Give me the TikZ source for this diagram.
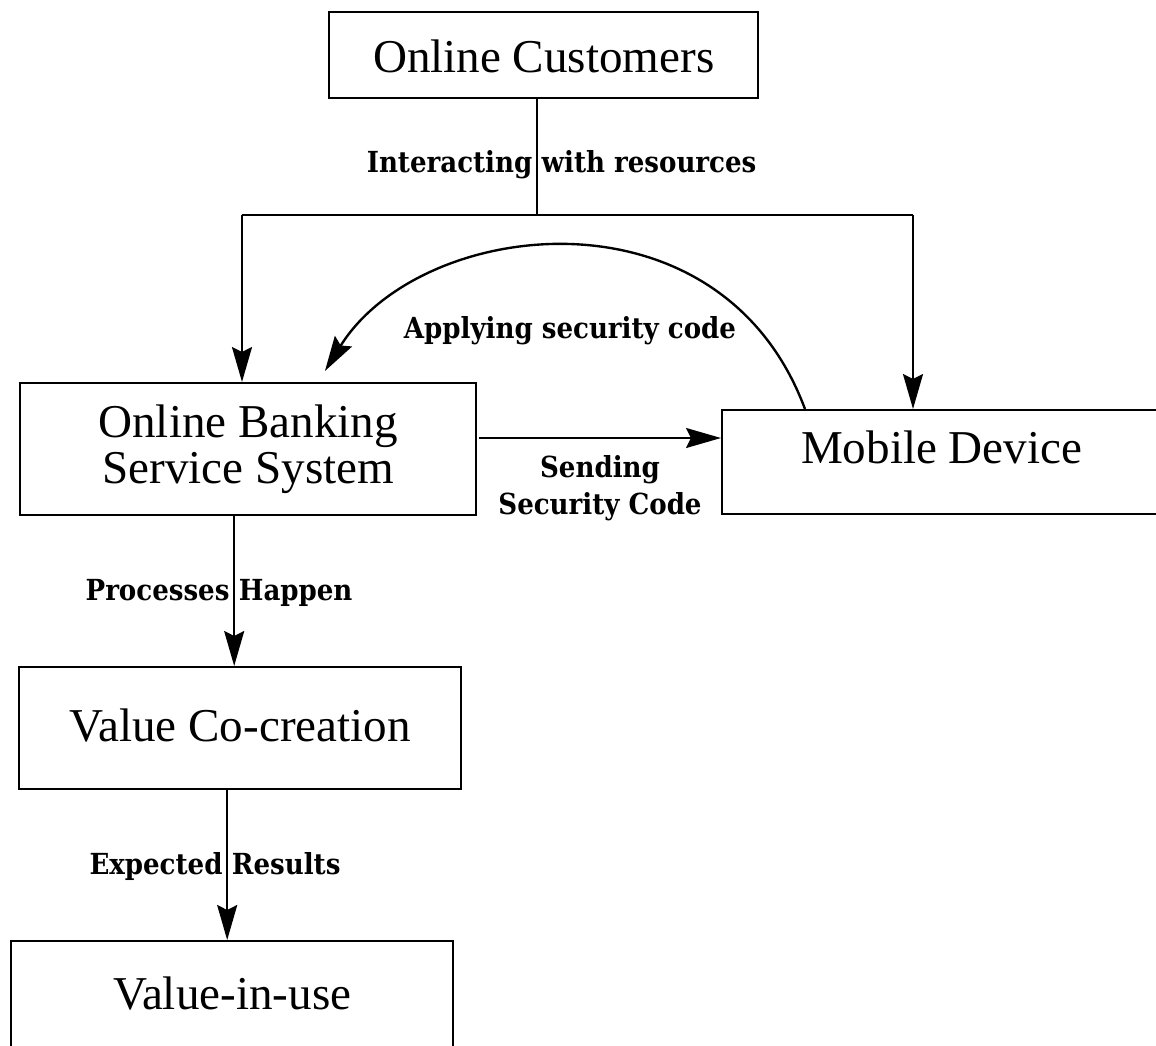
\documentclass[tikz,border=0pt]{standalone}
\usepackage{fontspec}
\setmainfont{Liberation Serif}
\newfontfamily\lblfont{DejaVu Serif Condensed}
\usetikzlibrary{arrows.meta}

\begin{document}
\begin{tikzpicture}[x=0.02cm, y=-0.02cm, every edge/.style={draw,solid}, line width=1.35pt,
                    >={Stealth[length=0.7cm,width=0.4cm,inset=0.1cm]},
                    box/.style={draw, rectangle, line width=1.4pt, inner xsep=0pt, inner ysep=0pt,
                                anchor=north west, font=\fontsize{26.8}{26}\selectfont},
                    lbl/.style={font=\lblfont\bfseries\fontsize{16.5}{21.5}\selectfont, inner sep=2pt},
                    sidelbl/.style={lbl, text height=0.75em, text depth=0.25em, yshift=-0.1cm}]

\useasboundingbox (0,0) rectangle (1156,1045);
\clip (0,0) rectangle (1156,1045);

\node[box, minimum width=8.58cm, text height=1.2cm, text depth=0.52cm] (cust) at (328,11) {Online Customers};
\node[box, minimum width=9.12cm, minimum height=2.64cm, align=center] (obss) at (19,382) {Online Banking\\Service System};
\node[box, minimum width=8.78cm, text height=1.06cm, text depth=1.02cm] (mob) at (721,409) {Mobile Device};
\node[box, minimum width=8.84cm, text height=1.48cm, text depth=0.96cm] (vcc) at (18,666) {Value Co-creation};
\node[box, minimum width=8.84cm, text height=1.36cm, text depth=1.2cm] (viu) at (10,940) {Value-in-use};
\node[lbl] (apply) at (570,331) {Applying security code};

\coordinate (split) at (537,215);
\coordinate (splitl) at (242,215);
\coordinate (splitr) at (913,215);
\coordinate (sendst) at (479,438);
\coordinate (procst) at ([xshift=-0.28cm]obss.south);
\coordinate (expst) at ([xshift=-0.26cm]vcc.south);

\draw (split |- cust.south) -- node[sidelbl, pos=0.55, left] {Interacting}
                               node[sidelbl, pos=0.55, right] {with resources} (split);
\draw (splitl) -- (splitr);

\path[->]
(splitl) edge (splitl |- obss.north)
(splitr) edge (splitr |- mob.north)
(sendst) edge node[lbl, below=7pt, align=center] {Sending\\Security Code} (sendst -| mob.west)
(procst) edge node[sidelbl, left] {Processes} node[sidelbl, right] {Happen} (procst |- vcc.north)
(expst) edge node[sidelbl, left] {Expected} node[sidelbl, right] {Results} (expst |- viu.north);

\draw[->] ([xshift=1.68cm]mob.north west) .. controls (720,181) and (420,218) .. ([xshift=6.12cm,yshift=0.22cm]obss.north west);
\end{tikzpicture}
\end{document}
